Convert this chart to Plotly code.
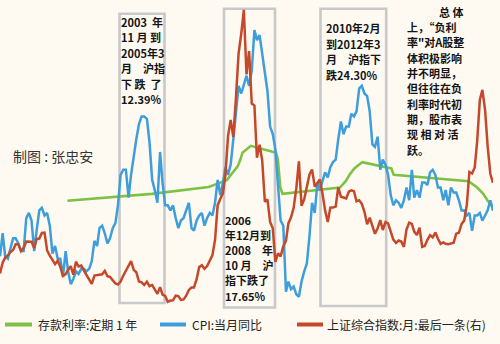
import pandas as pd
import plotly.graph_objects as go

# ---------------- data ----------------
months = pd.date_range("2000-01-01", "2015-09-01", freq="MS")

cpi_yoy = [
    -0.2, 0.7, -0.2, -0.3, 0.1, 0.5, 0.5, 0.3, 0.0, 0.0, 1.3, 1.5,
    1.2, 0.0, 0.8, 1.6, 1.7, 1.4, 1.5, 1.0, -0.1, 0.2, -0.3, -0.3,
    -1.0, 0.0, -0.8, -1.3, -1.1, -0.8, -0.9, -0.7, -0.7, -0.8, -0.7, -0.4,
    0.4, 0.2, 0.9, 1.0, 0.7, 0.3, 0.5, 0.9, 1.1, 1.8, 3.0, 3.2,
    3.2, 2.1, 3.0, 3.8, 4.4, 5.0, 5.3, 5.3, 5.2, 4.3, 2.8, 2.4,
    1.9, 3.9, 2.7, 1.8, 1.8, 1.6, 1.8, 1.3, 0.9, 1.2, 1.3, 1.6,
    1.9, 0.9, 0.8, 1.2, 1.4, 1.5, 1.0, 1.3, 1.5, 1.4, 1.9, 2.8,
    2.2, 2.7, 3.3, 3.0, 3.4, 4.4, 5.6, 6.5, 6.2, 6.5, 6.9, 6.5,
    7.1, 8.7, 8.3, 8.5, 7.7, 7.1, 6.3, 4.9, 4.6, 4.0, 2.4, 1.2,
    1.0, -1.6, -1.2, -1.5, -1.4, -1.7, -1.8, -1.2, -0.8, -0.5, 0.6, 1.9,
    1.5, 2.7, 2.4, 2.8, 3.1, 2.9, 3.3, 3.5, 3.6, 4.4, 5.1, 4.6,
    4.9, 4.9, 5.4, 5.3, 5.5, 6.4, 6.5, 6.2, 6.1, 5.5, 4.2, 4.1,
    4.5, 3.2, 3.6, 3.4, 3.0, 2.2, 1.8, 2.0, 1.9, 1.7, 2.0, 2.5,
    2.0, 3.2, 2.1, 2.4, 2.1, 2.7, 2.7, 2.6, 3.1, 3.2, 3.0, 2.5,
    2.5, 2.0, 2.4, 1.8, 2.5, 2.3, 2.3, 2.0, 1.6, 1.6, 1.4, 1.5,
    0.8, 1.4, 1.4, 1.5, 1.2, 1.4, 1.6, 2.0, 1.6,
]

sse_close = [
    1535, 1714, 1800, 1836, 1894, 1928, 2023, 2022, 1910, 1961, 2070, 2073,
    2065, 1960, 2112, 2119, 2214, 2218, 1920, 1834, 1749, 1690, 1747, 1646,
    1491, 1524, 1593, 1656, 1514, 1732, 1651, 1667, 1581, 1507, 1445, 1358,
    1500, 1511, 1511, 1521, 1577, 1487, 1476, 1421, 1367, 1349, 1398, 1497,
    1590, 1675, 1742, 1595, 1555, 1400, 1386, 1342, 1396, 1321, 1340, 1267,
    1192, 1306, 1181, 1159, 1060, 1080, 1083, 1162, 1155, 1092, 1099, 1161,
    1258, 1299, 1298, 1440, 1641, 1672, 1612, 1658, 1753, 1837, 2099, 2675,
    2786, 2881, 3183, 3841, 4109, 3821, 4471, 5218, 5552, 5954, 4871, 5262,
    4383, 4348, 3473, 3693, 3433, 2736, 2776, 2397, 2293, 1729, 1871, 1821,
    1991, 2082, 2373, 2477, 2633, 2959, 3412, 2667, 2779, 2996, 3195, 3277,
    2989, 3052, 3110, 2871, 2592, 2398, 2638, 2639, 2656, 2979, 2820, 2808,
    2791, 2906, 2928, 2912, 2743, 2762, 2701, 2568, 2359, 2468, 2333, 2199,
    2292, 2429, 2263, 2397, 2373, 2225, 2103, 2047, 2086, 2069, 1980, 2269,
    2385, 2366, 2237, 2178, 2301, 1979, 1994, 2098, 2175, 2141, 2220, 2116,
    2033, 2056, 2033, 2026, 2039, 2048, 2202, 2217, 2364, 2420, 2683, 3235,
    3210, 3310, 3748, 4441, 4612, 4277, 3664, 3206, 3053,
]

deposit_dates = [
    "2002-02-21", "2004-10-29", "2006-08-19", "2007-03-18", "2007-05-19",
    "2007-07-21", "2007-08-22", "2007-09-15", "2007-12-21", "2008-10-09",
    "2008-10-30", "2008-11-27", "2008-12-23", "2010-10-20", "2010-12-26",
    "2011-02-09", "2011-04-06", "2011-07-07", "2012-06-08", "2012-07-06",
    "2014-11-22", "2015-03-01", "2015-05-11", "2015-06-28", "2015-08-26",
    "2015-09-01",
]
deposit_rate = [
    1.98, 2.25, 2.52, 2.79, 3.06, 3.33, 3.60, 3.87, 4.14, 3.87,
    3.60, 2.52, 2.25, 2.50, 2.75, 3.00, 3.25, 3.50, 3.25, 3.00,
    2.75, 2.50, 2.25, 2.00, 1.75, 1.60,
]

legend_labels = ["存款利率:定期 1 年", "CPI:当月同比", "上证综合指数:月:最后一条(右)"]

box1_lines = ["2003  年", "11 月 到", "2005年3", "月　沪指", "下 跌  了", "12.39%"]
box2_lines = ["2006", "年12月到", "2008　年", "10 月　沪", "指下跌了", "17.65%"]
box3_lines = ["2010年2月", "到2012年3", "月　沪指下", "跌24.30%"]
note_lines = ["总 体", "上，“负利", "率\"对A股整", "体积极影响", "并不明显，",
              "但往往在负", "利率时代初", "期，股市表", "现 相 对 活", "跃。"]
credit = "制图 : 张忠安"

# ---------------- style ----------------
BG = "#FEFAF2"
GREEN = "#7DC243"
BLUE = "#3E9EDC"
RED = "#C4482A"
BOXC = "#C9C9C9"
CJK = "Noto Sans CJK SC"

W, H = 500, 344
PLOT_W, PLOT_H = 493, 310


def X(px):
    return px / PLOT_W


def Y(py):
    return (PLOT_H - py) / PLOT_H


fig = go.Figure()
fig.add_trace(go.Scatter(x=deposit_dates, y=deposit_rate, mode="lines",
                         line=dict(color=GREEN, width=2.6), name=legend_labels[0],
                         showlegend=False))
fig.add_trace(go.Scatter(x=months, y=cpi_yoy, mode="lines",
                         line=dict(color=BLUE, width=2.5), name=legend_labels[1],
                         showlegend=False))
fig.add_trace(go.Scatter(x=months, y=sse_close, mode="lines", yaxis="y2",
                         line=dict(color=RED, width=2.5), name=legend_labels[2],
                         showlegend=False))

fig.update_layout(
    width=W, height=H,
    margin=dict(l=0, r=W - PLOT_W, t=0, b=H - PLOT_H),
    paper_bgcolor=BG, plot_bgcolor=BG,
    xaxis=dict(type="date", range=["2000-01-01", "2015-09-01"], visible=False),
    yaxis=dict(range=[-2.32, 9.88], visible=False),
    yaxis2=dict(range=[922, 6118], overlaying="y", side="right", visible=False),
    showlegend=False,
)

# highlighted periods (boxes)
boxes = [(119.5, 13.8, 164.5, 303), (224, 8.7, 275, 307.5), (320.5, 8.7, 386.2, 306)]
for x0, y0, x1, y1 in boxes:
    fig.add_shape(type="rect", xref="paper", yref="paper",
                  x0=X(x0), x1=X(x1), y0=Y(y1), y1=Y(y0),
                  line=dict(color=BOXC, width=2.6), fillcolor="rgba(0,0,0,0)",
                  layer="below")


def add_lines(lines, x, y0, step, anchor="left", size=11):
    for i, t in enumerate(lines):
        fig.add_annotation(xref="paper", yref="paper", x=X(x), y=Y(y0 + i * step),
                           text=f"<b>{t}</b>", showarrow=False, xanchor=anchor,
                           yanchor="middle", borderpad=0, borderwidth=0,
                           font=dict(family=CJK, size=size, color="#141414"))


add_lines(box1_lines, 121, 22, 15.4)
add_lines(box2_lines, 225, 220, 15.1)
add_lines(box3_lines, 326, 28, 15.6)
add_lines(note_lines[:1], 463.5, 12, 15.3, anchor="right")
add_lines(note_lines[1:], 407, 27, 15.35)

fig.add_annotation(xref="paper", yref="paper", x=X(13), y=Y(156), text=credit,
                   showarrow=False, xanchor="left", yanchor="middle",
                   borderpad=0, borderwidth=0,
                   font=dict(family=CJK, size=14, color="#333333"))

# manual legend
leg_y = 324.5
leg_items = [(5, 32, 38, GREEN), (160, 186, 192, BLUE), (297, 323, 327, RED)]
for (sx0, sx1, tx, col), label in zip(leg_items, legend_labels):
    fig.add_shape(type="line", xref="paper", yref="paper",
                  x0=X(sx0), x1=X(sx1), y0=Y(leg_y), y1=Y(leg_y),
                  line=dict(color=col, width=4))
    fig.add_annotation(xref="paper", yref="paper", x=X(tx), y=Y(leg_y), text=label,
                       showarrow=False, xanchor="left", yanchor="middle",
                       borderpad=0, borderwidth=0,
                       font=dict(family=CJK, size=12, color="#222222"))

fig.write_html("out.html")
